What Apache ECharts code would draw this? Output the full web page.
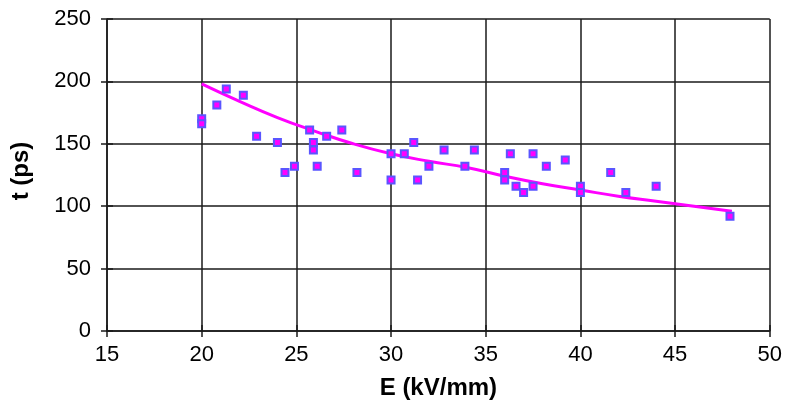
<!DOCTYPE html>
<html>
<head>
<meta charset="utf-8">
<script src="https://cdn.jsdelivr.net/npm/echarts@6/dist/echarts.min.js"></script>
<style>
html,body{margin:0;padding:0;background:#fff;}
#chart{width:785px;height:411px;}
</style>
</head>
<body>
<div id="chart"></div>
<script>
// Measured points (E in kV/mm, t in ps)
const measE = [20.0, 20.0, 20.8, 21.3, 22.2, 22.9, 24.0, 24.4, 24.9, 25.7, 25.9, 25.9, 26.1, 26.6, 27.4, 28.2, 30.0, 30.0, 30.7, 31.2, 31.4, 32.0, 32.8, 33.9, 34.4, 36.0, 36.0, 36.3, 36.6, 37.0, 37.5, 37.5, 38.2, 39.2, 40.0, 40.0, 41.6, 42.4, 44.0, 47.9];
const measT = [170, 166, 181, 194, 189, 156, 151, 127, 132, 161, 151, 145, 132, 156, 161, 127, 142, 121, 142, 151, 121, 132, 145, 132, 145, 127, 121, 142, 116, 111, 142, 116, 132, 137, 116, 111, 127, 111, 116, 92];
// Trend line
const trendE = [20, 22, 24, 26, 28, 30, 32, 34, 36, 38, 40, 42, 44, 46, 48];
const trendT = [198, 184, 171, 160, 150, 142, 136, 131, 124, 118, 113, 108, 104, 100, 96];
// Axis ticks
const xTicks = [15, 20, 25, 30, 35, 40, 45, 50];
const yTicks = [0, 50, 100, 150, 200, 250];
const xTitle = 'E (kV/mm)';
const yTitle = 't (ps)';

const chart = echarts.init(document.getElementById('chart'), null, {renderer: 'canvas'});
const font = 'Liberation Sans, Arial, Helvetica, sans-serif';
const lineCol = '#1a1a1a';
const xMin = xTicks[0], xMax = xTicks[xTicks.length - 1];
const yMin = yTicks[0], yMax = yTicks[yTicks.length - 1];
const xInt = xTicks[1] - xTicks[0], yInt = yTicks[1] - yTicks[0];

const option = {
  animation: false,
  backgroundColor: '#ffffff',
  grid: {left: 107, right: 15, top: 19, bottom: 80, containLabel: false},
  xAxis: [{
    type: 'value', min: xMin, max: xMax, interval: xInt,
    position: 'bottom',
    name: xTitle, nameLocation: 'middle', nameGap: 45,
    nameTextStyle: {fontFamily: font, fontSize: 24, fontWeight: 'bold', color: '#000'},
    axisLine: {show: true, lineStyle: {color: lineCol, width: 1.5}},
    axisTick: {show: true, length: 6, lineStyle: {color: lineCol, width: 1.5}},
    axisLabel: {fontFamily: font, fontSize: 22, color: '#000', margin: 13},
    splitLine: {show: true, lineStyle: {color: lineCol, width: 1.5}}
  }, {
    type: 'value', min: xMin, max: xMax, interval: xInt,
    position: 'bottom',
    axisLine: {show: false},
    axisTick: {show: true, inside: true, length: 6, lineStyle: {color: lineCol, width: 1.5}},
    axisLabel: {show: false},
    splitLine: {show: false}
  }],
  yAxis: [{
    type: 'value', min: yMin, max: yMax, interval: yInt,
    position: 'left',
    name: yTitle, nameLocation: 'middle', nameGap: 74, nameRotate: 90,
    nameTextStyle: {fontFamily: font, fontSize: 24, fontWeight: 'bold', color: '#000', padding: [0, 0, 0, 8]},
    axisLine: {show: true, lineStyle: {color: lineCol, width: 1.5}},
    axisTick: {show: true, length: 6, lineStyle: {color: lineCol, width: 1.5}},
    axisLabel: {fontFamily: font, fontSize: 22, color: '#000', margin: 16},
    splitLine: {show: true, lineStyle: {color: lineCol, width: 1.5}}
  }, {
    type: 'value', min: yMin, max: yMax, interval: yInt,
    position: 'left',
    axisLine: {show: false},
    axisTick: {show: true, inside: true, length: 6, lineStyle: {color: lineCol, width: 1.5}},
    axisLabel: {show: false},
    splitLine: {show: false}
  }],
  series: [{
    type: 'line',
    data: trendE.map((e, i) => [e, trendT[i]]),
    smooth: true,
    showSymbol: false,
    lineStyle: {color: '#ff00ff', width: 3},
    z: 3
  }, {
    type: 'scatter',
    data: measE.map((e, i) => [e, measT[i]]),
    symbol: 'rect',
    symbolSize: 7,
    itemStyle: {color: '#ff00ff', borderColor: '#5a55ff', borderWidth: 2, opacity: 1},
    z: 4
  }]
};
chart.setOption(option);
</script>
</body>
</html>
